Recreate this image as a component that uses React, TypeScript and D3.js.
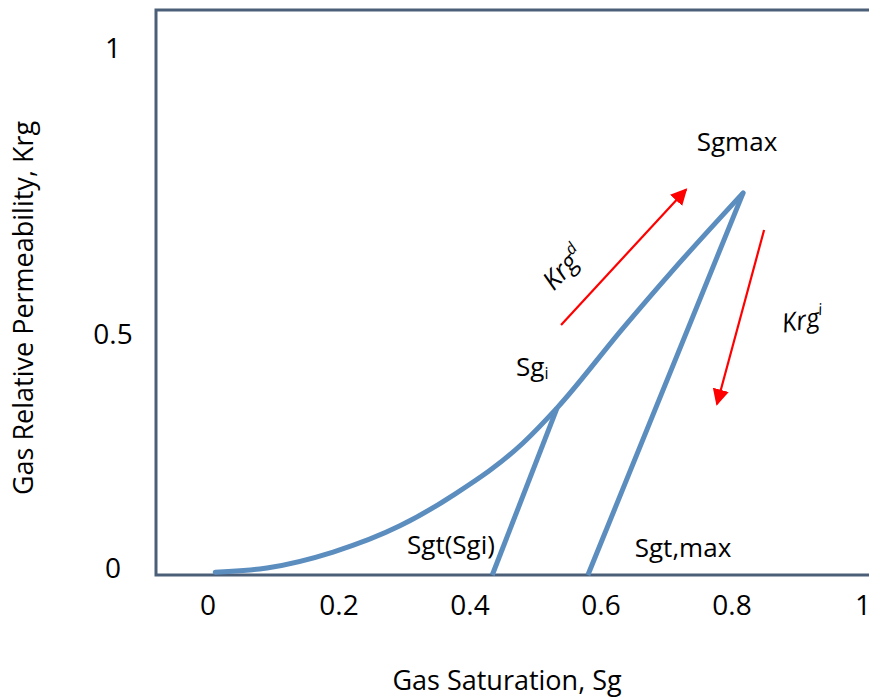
import React from "react";
import * as d3 from "d3";

// Drainage curve Krg(Sg) from near zero up to Sgmax
const drainageSg = [0.011, 0.09, 0.191, 0.293, 0.377, 0.481, 0.533, 0.634, 0.71, 0.817];
const drainageKrg = [0.006, 0.015, 0.049, 0.105, 0.173, 0.282, 0.357, 0.523, 0.624, 0.759];

// Imbibition scanning lines: start Sg, start Krg, trapped Sg
const scanStartSg = [0.533, 0.817];
const scanStartKrg = [0.357, 0.759];
const scanTrappedSg = [0.434, 0.58];

const xTicks = [0, 0.2, 0.4, 0.6, 0.8, 1];
const xTickLabels = ["0", "0.2", "0.4", "0.6", "0.8", "1"];
const yTicks = [0, 0.5, 1];
const yTickLabels = ["0", "0.5", "1"];

const W = 869;
const H = 697;
const FONT = "'Open Sans', 'Noto Sans', sans-serif";

export default function App() {
  const x = d3.scaleLinear().domain([0, 1]).range([208, 863]);
  const y = d3.scaleLinear().domain([0, 0.5, 1]).range([575, 341, 55]);

  const drainage = drainageSg.map((s, i) => [s, drainageKrg[i]] as [number, number]);
  const line = d3
    .line<[number, number]>()
    .x((d) => x(d[0]))
    .y((d) => y(d[1]))
    .curve(d3.curveMonotoneX);

  const straight = d3
    .line<[number, number]>()
    .x((d) => x(d[0]))
    .y((d) => y(d[1]));

  const curveColor = "#5b8dbf";
  const frameColor = "#4c5f79";
  const red = "#ff0000";

  // direction arrows, data coordinates
  const arrowUp: [[number, number], [number, number]] = [
    [0.539, 0.528],
    [0.73, 0.765],
  ];
  const arrowDown: [[number, number], [number, number]] = [
    [0.849, 0.694],
    [0.777, 0.365],
  ];

  const arrow = (a: [[number, number], [number, number]], key: string) => (
    <line
      key={key}
      x1={x(a[0][0])}
      y1={y(a[0][1])}
      x2={x(a[1][0])}
      y2={y(a[1][1])}
      stroke={red}
      strokeWidth={2.2}
      markerEnd="url(#head)"
    />
  );

  return (
    <svg
      width={W}
      height={H}
      style={{ position: "absolute", left: 0, top: 0, background: "#fff" }}
      fontFamily={FONT}
    >
      <defs>
        <marker
          id="head"
          viewBox="0 0 10 10"
          refX="9"
          refY="5"
          markerWidth="7.5"
          markerHeight="7.5"
          orient="auto"
          markerUnits="strokeWidth"
        >
          <path d="M0,0 L10,5 L0,10 z" fill={red} />
        </marker>
        <filter id="soft" x="-5%" y="-5%" width="110%" height="110%">
          <feGaussianBlur stdDeviation="0.7" />
        </filter>
      </defs>

      <rect width={W} height={H} fill="#fff" />

      {/* plot frame */}
      <path
        d={`M${W + 5},10 H156 V575 H${W + 5}`}
        fill="none"
        stroke={frameColor}
        strokeWidth={3}
      />

      {/* curves */}
      <g filter="url(#soft)" fill="none" stroke={curveColor} strokeWidth={5} strokeLinecap="round">
        <path d={line(drainage) || ""} />
        {scanStartSg.map((s, i) => (
          <path
            key={i}
            d={
              straight([
                [s, scanStartKrg[i]],
                [scanTrappedSg[i], 0],
              ]) || ""
            }
            strokeLinecap="butt"
          />
        ))}
      </g>

      {/* arrows */}
      {arrow(arrowUp, "up")}
      {arrow(arrowDown, "down")}

      {/* x tick labels */}
      {xTicks.map((t, i) => (
        <text key={t} x={x(t)} y={615} fontSize={28} textAnchor="middle" fill="#000">
          {xTickLabels[i]}
        </text>
      ))}
      {/* y tick labels */}
      {yTicks.map((t, i) => (
        <text key={t} x={113} y={y(t) + 3} fontSize={28} textAnchor="middle" fill="#000">
          {yTickLabels[i]}
        </text>
      ))}

      {/* axis titles */}
      <text x={507} y={690} fontSize={27} textAnchor="middle" fill="#000">
        Gas Saturation, Sg
      </text>
      <text
        transform="translate(33,308) rotate(-90)"
        fontSize={27}
        textAnchor="middle"
        fill="#000"
      >
        Gas Relative Permeability, Krg
      </text>

      {/* annotations */}
      <text x={737} y={151} fontSize={26} textAnchor="middle" fill="#000">
        Sgmax
      </text>
      <text x={516} y={376} fontSize={26} fill="#000">
        Sg<tspan fontSize={16} dy={3}>i</tspan>
      </text>
      <text x={451} y={554} fontSize={26} textAnchor="middle" fill="#000">
        Sgt(Sgi)
      </text>
      <text x={683} y={557} fontSize={26} textAnchor="middle" fill="#000">
        Sgt,max
      </text>
      <text
        transform="translate(570,274) rotate(-47)"
        fontSize={26}
        textAnchor="middle"
        fontStyle="italic"
        fill="#000"
      >
        Krg<tspan fontSize={16} dy={-11}>d</tspan>
      </text>
      <text
        transform="translate(804,329) rotate(-10)"
        fontSize={26}
        textAnchor="middle"
        fontStyle="italic"
        fill="#000"
      >
        Krg<tspan fontSize={16} dy={-11}>i</tspan>
      </text>
    </svg>
  );
}
